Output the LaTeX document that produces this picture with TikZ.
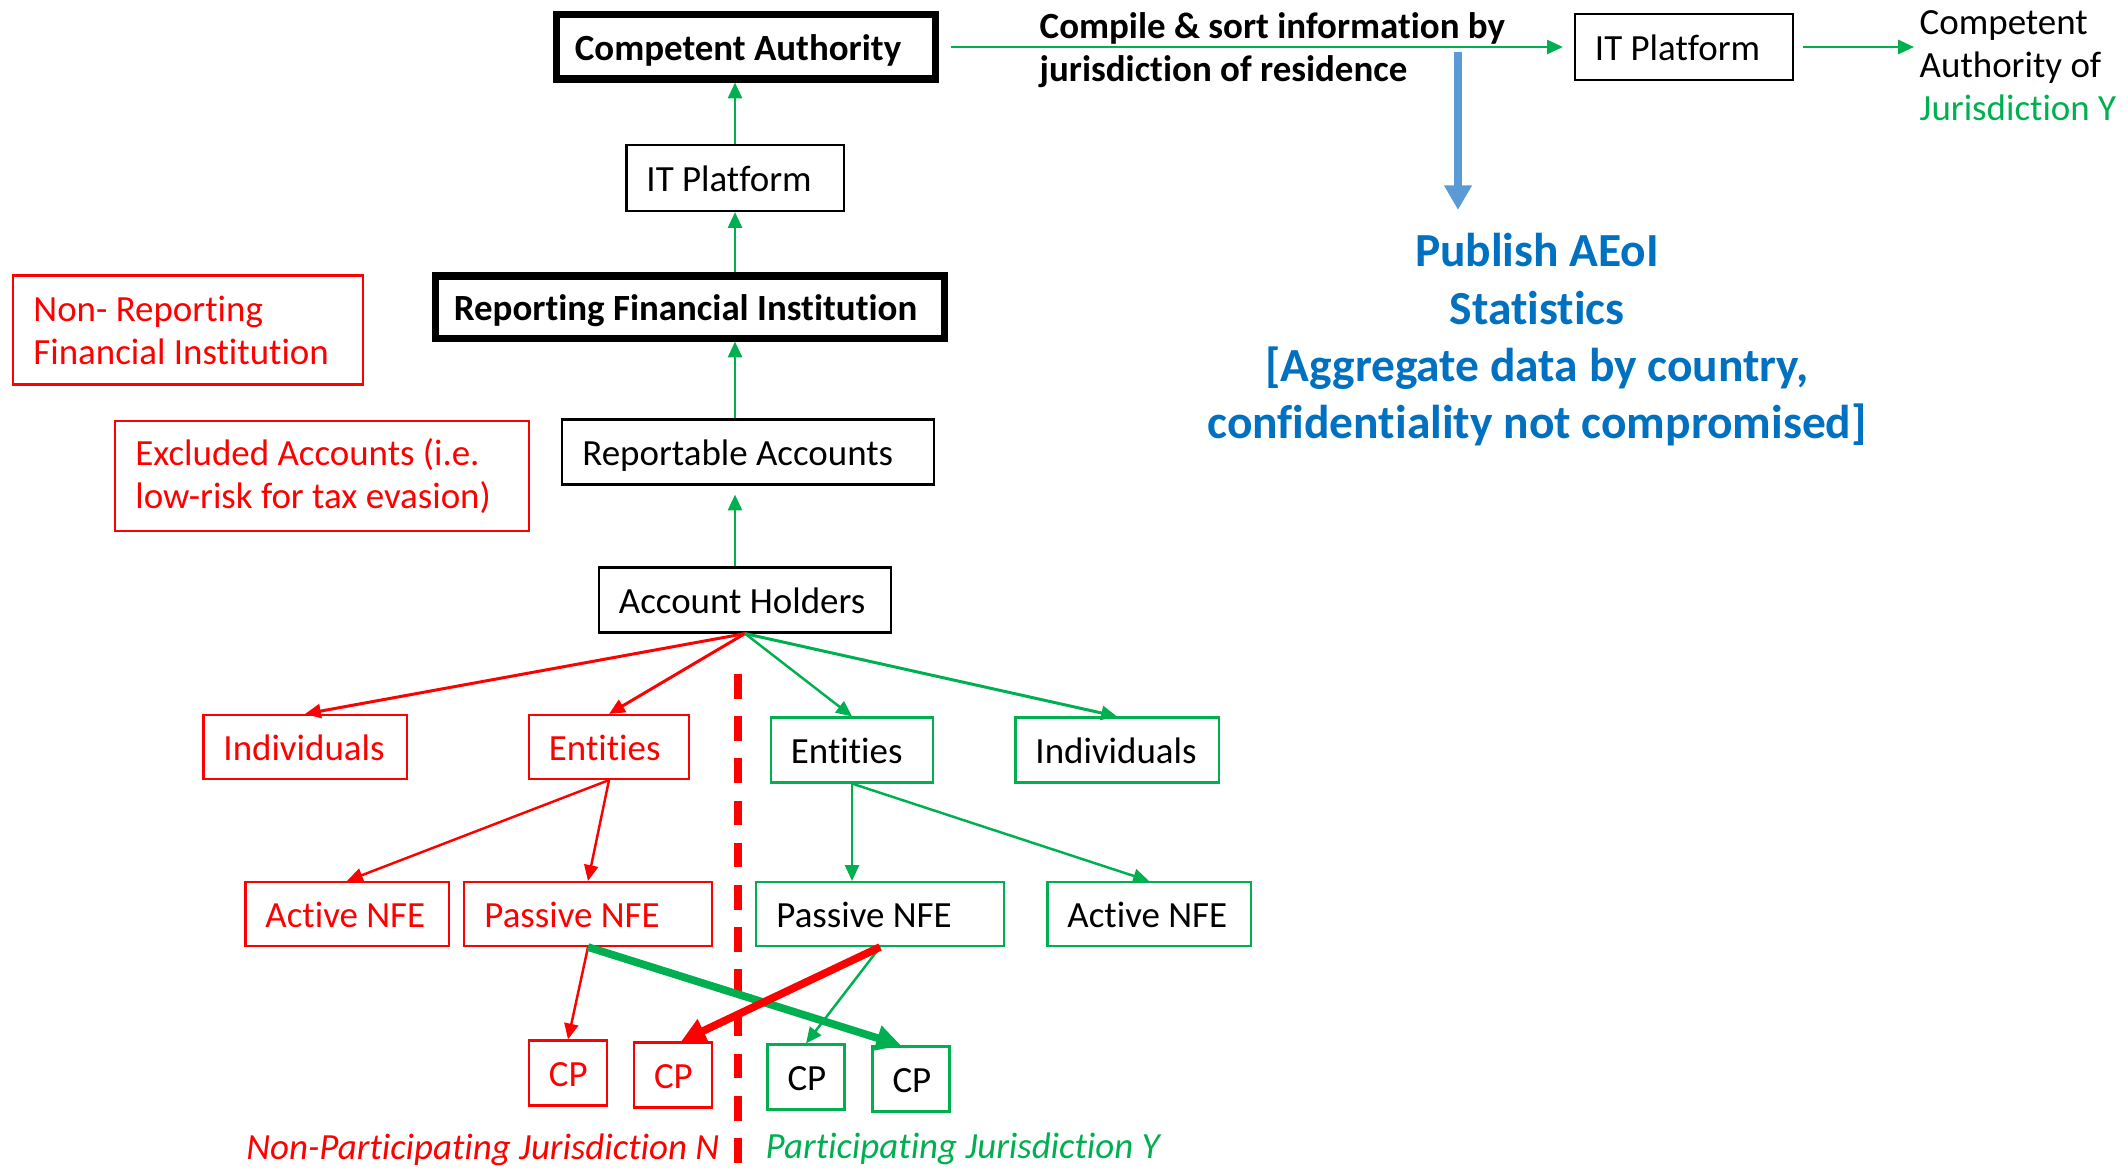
\documentclass[tikz,border=0pt]{standalone}
\usepackage{fontspec}
\setmainfont[Ligatures=NoCommon]{Carlito}
\usetikzlibrary{arrows.meta}
\definecolor{ppred}{HTML}{FF0000}
\definecolor{ppgreen}{HTML}{00B050}
\definecolor{ppblue}{HTML}{0070C0}
\definecolor{ppsky}{HTML}{5B9BD5}
\newcommand{\diagfont}{\fontsize{10.5}{12.2}\selectfont}
\newcommand{\pubfont}{\fontsize{13.5}{16.3}\selectfont\bfseries}
\tikzset{
  stagebox/.style={
    rectangle, draw=#1, line width=0.6pt,
    font=\diagfont, align=flush left, inner xsep=0.2cm, inner ysep=0pt,
    text height=1em, text depth=0.25em
  },
  stagebox/.default=black,
  redbox/.style={stagebox=ppred, text=ppred},
  greenbox/.style={stagebox=ppgreen},
  keybox/.style={
    rectangle, draw=black, line width=2pt,
    font=\diagfont\bfseries, align=flush left, inner xsep=0.18cm, inner ysep=0pt,
    text height=1em, text depth=0.25em
  },
  notebox/.style={
    rectangle, draw=ppred, text=ppred, line width=0.6pt,
    font=\diagfont, align=flush left, inner xsep=0.2cm
  },
  flow/.style={
    -{Triangle[length=4.5pt,width=4pt]}, line width=0.7pt, color=#1
  },
  flow/.default=ppgreen,
  crossflow/.style={
    -{Triangle[length=7pt,width=7pt]}, line width=2.2pt, color=#1
  },
  crossflow/.default=ppgreen,
  pubflow/.style={
    -{Triangle[length=7pt,width=7.5pt]}, line width=2.3pt, color=ppsky
  },
  zonelabel/.style={font=\diagfont\itshape, inner sep=0pt, text=#1},
}
\begin{document}
\begin{tikzpicture}[x=0.01cm, y=-0.01cm]
  \useasboundingbox (0,0) rectangle (2128,1170);

  % top chain
  \node[keybox, text width=3.42cm, minimum height=0.64cm] (ca) at (746,47)
    {Competent~Authority};
  \node[stagebox, text width=1.77cm, minimum height=0.66cm] (itmid) at (735,178)
    {IT~Platform};
  \node[keybox, text width=4.72cm, minimum height=0.62cm] (rfi) at (690,307)
    {Reporting Financial~Institution};
  \node[stagebox, text width=3.31cm, minimum height=0.65cm] (rep) at (748,452)
    {Reportable~Accounts};
  \node[stagebox, text width=2.52cm, minimum height=0.65cm] (ah) at (745,600)
    {Account~Holders};

  \node[notebox, text width=3.09cm, minimum height=1.09cm] (nonrep) at (188,330)
    {Non- Reporting\\Financial Institution};
  \node[notebox, text width=3.73cm, minimum height=1.10cm] (excl) at (322,476)
    {Excluded Accounts (i.e.\\low-risk for tax evasion)};

  % exchange
  \node[font=\diagfont\bfseries, align=left, inner sep=0pt, anchor=west] (compile)
    at (1039,50) {Compile \& sort information by\\jurisdiction of residence};
  \node[stagebox, text width=1.78cm, minimum height=0.66cm] (ity) at (1684,47)
    {IT~Platform};
  \node[font=\diagfont, align=left, inner sep=0pt, anchor=west] (cay) at (1919,66)
    {Competent\\Authority of\\\textcolor{ppgreen}{Jurisdiction Y}};
  \node[font=\pubfont, text=ppblue, align=center, inner sep=0pt] (pub) at (1537,340)
    {Publish AEoI\\Statistics\\{[}Aggregate data by country,\\confidentiality not compromised{]}};
  \coordinate (split) at (1458,52);

  % account holders
  \node[redbox, text width=1.63cm, minimum height=0.64cm] (indn) at (305,747) {Individuals};
  \node[redbox, text width=1.20cm, minimum height=0.64cm] (entn) at (609,747) {Entities};
  \node[greenbox, text width=1.22cm, minimum height=0.65cm] (enty) at (852,750) {Entities};
  \node[greenbox, text width=1.63cm, minimum height=0.65cm] (indy) at (1117,750) {Individuals};

  \node[redbox, text width=1.63cm, minimum height=0.64cm] (actn) at (347,914) {Active~NFE};
  \node[redbox, text width=2.07cm, minimum height=0.64cm] (pasn) at (588,914) {Passive~NFE};
  \node[greenbox, text width=2.07cm, minimum height=0.64cm] (pasy) at (880,914) {Passive~NFE};
  \node[greenbox, text width=1.63cm, minimum height=0.64cm] (acty) at (1149,914) {Active~NFE};

  \node[redbox, text width=0.38cm, minimum height=0.65cm] (cpn1) at (568,1073) {CP};
  \node[redbox, text width=0.38cm, minimum height=0.65cm] (cpn2) at (673,1075) {CP};
  \node[greenbox, text width=0.37cm, minimum height=0.65cm] (cpy1) at (806,1077) {CP};
  \node[greenbox, text width=0.37cm, minimum height=0.65cm] (cpy2) at (911,1079) {CP};

  \node[zonelabel=ppred, anchor=east] (zonen) at (720,1150)
    {Non-Participating Jurisdiction N};
  \node[zonelabel=ppgreen, anchor=west] (zoney) at (765,1149)
    {Participating Jurisdiction Y};

  \draw[ppred, line width=2pt, dash pattern=on 7pt off 5pt] (738,674) -- (738,1170);

  % connectors
  \draw[flow] (itmid.north) -- (itmid.north |- ca.south);
  \draw[flow] (rfi.north -| itmid) -- (itmid.south);
  \draw[flow] (rep.north -| itmid) -- (rfi.south -| itmid);
  \draw[flow, shorten >=0.09cm] (ah.north -| itmid) -- (rep.south -| itmid);

  \draw[flow, shorten <=0.12cm, shorten >=0.11cm] (ca.east) -- (ity.west);
  \draw[flow, shorten <=0.09cm, shorten >=0.05cm] (ity.east) -- (ity.east -| cay.west);
  \draw[pubflow, shorten >=0.23cm] (split) -- (split |- pub.north);

  \draw[flow=ppred, line width=0.85pt] (ah.south) -- (indn.north);
  \draw[flow=ppred, line width=0.85pt] (ah.south) -- (entn.north);
  \draw[flow] (ah.south) -- (enty.north);
  \draw[flow, line width=0.85pt] (ah.south) -- (indy.north);

  \draw[flow=ppred] (entn.south) -- (actn.north);
  \draw[flow=ppred] (entn.south) -- (pasn.north);
  \draw[flow] (enty.south) -- (pasy.north -| enty);
  \draw[flow] (enty.south) -- (acty.north);

  \draw[flow=ppred] (pasn.south) -- (cpn1.north);
  \draw[flow] (pasy.south) -- (cpy1.north);
  \draw[crossflow] (pasn.south) -- ([xshift=-0.1cm]cpy2.north);
  \draw[crossflow=ppred] (pasy.south) -- ([xshift=0.08cm]cpn2.north);
\end{tikzpicture}
\end{document}
